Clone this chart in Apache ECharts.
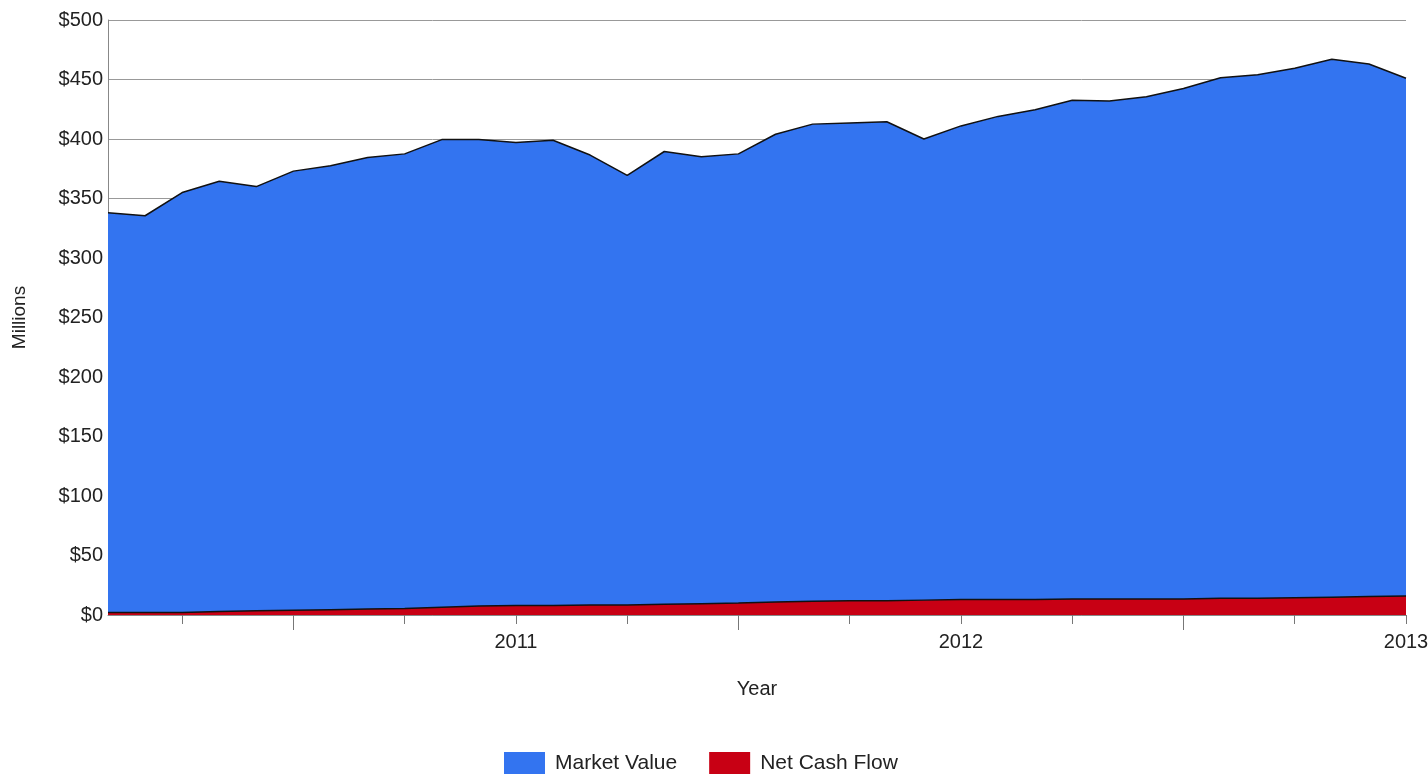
<!DOCTYPE html>
<html>
<head>
<meta charset="utf-8">
<script src="https://cdn.jsdelivr.net/npm/echarts@6/dist/echarts.min.js"></script>
<style>
html,body{margin:0;padding:0;background:#fff;}
#chart{width:1428px;height:776px;}
</style>
</head>
<body>
<div id="chart"></div>
<script>
// Monthly points, Jan 2010 .. Dec 2012
const months = [
  '2010-01','2010-02','2010-03','2010-04','2010-05','2010-06','2010-07','2010-08','2010-09','2010-10','2010-11','2010-12',
  '2011-01','2011-02','2011-03','2011-04','2011-05','2011-06','2011-07','2011-08','2011-09','2011-10','2011-11','2011-12',
  '2012-01','2012-02','2012-03','2012-04','2012-05','2012-06','2012-07','2012-08','2012-09','2012-10','2012-11','2012-12'
];
const marketValue = [
  338, 335.5, 355, 364.5, 360, 373, 377.5, 384.5, 387.5, 399.5, 399.5, 397,
  399, 386.5, 369.5, 389.5, 385, 387.5, 404, 412.5, 413.5, 414.5, 400, 411,
  419, 424.5, 432.5, 432, 435.5, 442.5, 451.5, 454, 459.5, 467, 463, 451
];
const netCashFlow = [
  2, 2, 2, 3, 3.5, 4, 4.5, 5, 5.5, 6.5, 7.5, 8,
  8, 8.5, 8.5, 9, 9.5, 10, 11, 11.5, 12, 12, 12.5, 13,
  13, 13, 13.5, 13.5, 13.5, 13.5, 14, 14, 14.5, 15, 15.5, 16
];
const yearLabelIdx = [11, 23, 35];
const yearLabels = ['2011', '2012', '2013'];

const FONT = "'Liberation Sans', Arial, sans-serif";
const chart = echarts.init(document.getElementById('chart'));
chart.setOption({
  animation: false,
  grid: { left: 108, right: 22, top: 20, bottom: 161, containLabel: false, outerBoundsMode: 'none' },
  legend: {
    left: 504, top: 752, padding: 0,
    itemWidth: 41, itemHeight: 22, itemGap: 32,
    icon: 'rect',
    textStyle: { fontFamily: FONT, fontSize: 21, color: '#222', padding: [0,0,0,5] },
    data: ['Market Value', 'Net Cash Flow']
  },
  xAxis: [{
    type: 'category',
    data: months,
    boundaryGap: false,
    name: 'Year',
    nameLocation: 'middle',
    nameGap: 64,
    nameTextStyle: { fontFamily: FONT, fontSize: 20, color: '#222', verticalAlign: 'top' },
    axisLine: { show: true, lineStyle: { color: '#888', width: 1 } },
    axisTick: { show: true, interval: (i) => i % 3 === 2, length: 9, lineStyle: { color: '#777' } },
    axisLabel: {
      interval: (i) => yearLabelIdx.includes(i),
      formatter: (v, i) => { const k = yearLabelIdx.indexOf(i); return k >= 0 ? yearLabels[k] : ''; },
      fontFamily: FONT, fontSize: 20, color: '#222', margin: 17, showMaxLabel: true
    },
    splitLine: { show: false }
  }, {
    type: 'category',
    data: months,
    boundaryGap: false,
    position: 'bottom',
    axisLine: { show: false },
    axisTick: { show: true, interval: (i) => i % 12 === 5, length: 15, lineStyle: { color: '#777' } },
    axisLabel: { show: false },
    splitLine: { show: false }
  }],
  yAxis: {
    type: 'value',
    min: 0, max: 500, interval: 50,
    name: 'Millions',
    nameLocation: 'middle',
    nameGap: 79,
    nameTextStyle: { fontFamily: FONT, fontSize: 19, color: '#222' },
    axisLine: { show: true, lineStyle: { color: '#888', width: 1 } },
    axisTick: { show: false },
    axisLabel: { formatter: (v) => '$' + v, fontFamily: FONT, fontSize: 20, color: '#222', margin: 5 },
    splitLine: { show: true, lineStyle: { color: '#999', width: 1 } }
  },
  series: [{
    name: 'Market Value',
    type: 'line',
    data: marketValue,
    symbol: 'none',
    itemStyle: { color: '#3374F0' },
    lineStyle: { color: '#111', width: 1.5 },
    areaStyle: { color: '#3374F0', opacity: 1 },
    z: 2
  }, {
    name: 'Net Cash Flow',
    type: 'line',
    data: netCashFlow,
    symbol: 'none',
    itemStyle: { color: '#C80014' },
    lineStyle: { color: '#111', width: 1.5 },
    areaStyle: { color: '#C80014', opacity: 1 },
    z: 3
  }]
});
</script>
</body>
</html>
